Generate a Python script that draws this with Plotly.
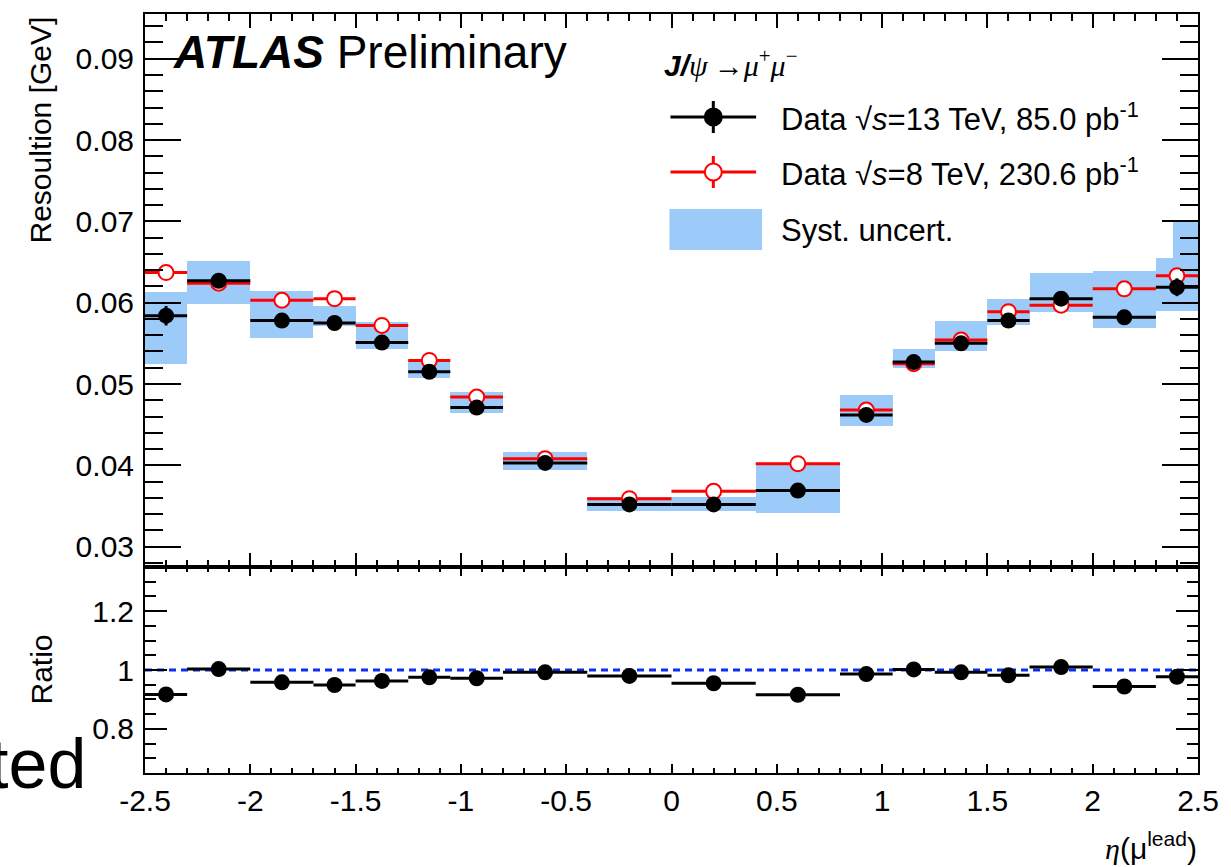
import plotly.graph_objects as go

# ---------------- data ----------------
eta_edges = [-2.5, -2.3, -2.0, -1.7, -1.5, -1.25, -1.05, -0.8, -0.4, 0.0,
             0.4, 0.8, 1.05, 1.25, 1.5, 1.7, 2.0, 2.3, 2.5]
res_13tev = [0.0584, 0.0627, 0.0578, 0.0575, 0.0551, 0.0515, 0.0471, 0.0403, 0.0352,
             0.0352, 0.0369, 0.0462, 0.0527, 0.0550, 0.0578, 0.0605, 0.0582, 0.0619]
err_13tev = [0.0012, 0.0003, 0.0003, 0.0003, 0.0003, 0.0003, 0.0003, 0.0003, 0.0003,
             0.0003, 0.0003, 0.0003, 0.0003, 0.0003, 0.0003, 0.0003, 0.0003, 0.0011]
res_8tev = [0.0637, 0.0624, 0.0603, 0.0605, 0.0572, 0.0529, 0.0484, 0.0408, 0.0359,
            0.0368, 0.0402, 0.0468, 0.0525, 0.0554, 0.0589, 0.0597, 0.0617, 0.0633]
err_8tev = [0.0003] * 18
syst_lo = [0.0525, 0.0599, 0.0557, 0.0571, 0.0543, 0.0508, 0.0464, 0.0394, 0.0344,
           0.0344, 0.0341, 0.0449, 0.0520, 0.0541, 0.0573, 0.0588, 0.0569, 0.0590]
syst_hi = [0.0613, 0.0651, 0.0614, 0.0596, 0.0576, 0.0529, 0.0490, 0.0416, 0.0361,
           0.0361, 0.0403, 0.0487, 0.0543, 0.0578, 0.0604, 0.0636, 0.0639, 0.0655]
# extra narrow systematic box visible at the right edge
extra_edges = [2.38, 2.5]
extra_lo = [0.0590]
extra_hi = [0.0700]
ratio = [0.917, 1.003, 0.958, 0.949, 0.963, 0.975, 0.972, 0.992, 0.980,
         0.955, 0.916, 0.986, 1.002, 0.992, 0.982, 1.010, 0.944, 0.977]
ratio_err = [0.01] * 18
ratio_ref = 1.0
x_tickvals = [-2.5, -2.0, -1.5, -1.0, -0.5, 0.0, 0.5, 1.0, 1.5, 2.0, 2.5]
x_ticklabels = ["-2.5", "-2", "-1.5", "-1", "-0.5", "0", "0.5", "1", "1.5", "2", "2.5"]

# ---------------- derived ----------------
centers = [(a + b) / 2 for a, b in zip(eta_edges[:-1], eta_edges[1:])]
halfw = [(b - a) / 2 for a, b in zip(eta_edges[:-1], eta_edges[1:])]
widths = [b - a for a, b in zip(eta_edges[:-1], eta_edges[1:])]

W, H = 1231, 867
L, R, T, B = 145, 1203, 14, 773
FONT = "Liberation Sans, Arial, Helvetica, sans-serif"
SERIF = "Liberation Serif, Times New Roman, serif"
SYST = "#9ccbfa"
split = (B - 567) / (B - T)


def px(x):
    return (x - L) / (R - L)


def py(y):
    return (B - y) / (B - T)


fig = go.Figure()

# systematic boxes
fig.add_trace(go.Bar(x=centers, y=[h - l for h, l in zip(syst_hi, syst_lo)], base=syst_lo,
                     width=widths, marker=dict(color=SYST, line=dict(width=0)),
                     xaxis="x", yaxis="y", showlegend=False))
fig.add_trace(go.Bar(x=[(extra_edges[0] + extra_edges[1]) / 2],
                     y=[extra_hi[0] - extra_lo[0]], base=extra_lo,
                     width=[extra_edges[1] - extra_edges[0]],
                     marker=dict(color=SYST, line=dict(width=0)),
                     xaxis="x", yaxis="y", showlegend=False))

# 8 TeV data
fig.add_trace(go.Scatter(x=centers, y=res_8tev, mode="markers",
                         marker=dict(symbol="circle", size=15, color="white",
                                     line=dict(color="red", width=2)),
                         error_x=dict(type="data", array=halfw, width=0, thickness=3, color="red"),
                         error_y=dict(type="data", array=err_8tev, width=0, thickness=3, color="red"),
                         xaxis="x", yaxis="y", showlegend=False))
# 13 TeV data
fig.add_trace(go.Scatter(x=centers, y=res_13tev, mode="markers",
                         marker=dict(symbol="circle", size=16, color="black"),
                         error_x=dict(type="data", array=halfw, width=0, thickness=3, color="black"),
                         error_y=dict(type="data", array=err_13tev, width=0, thickness=3, color="black"),
                         xaxis="x", yaxis="y", showlegend=False))

# ratio panel
fig.add_trace(go.Scatter(x=[eta_edges[0], eta_edges[-1]], y=[ratio_ref, ratio_ref], mode="lines",
                         line=dict(color="#0a2ff0", width=3, dash="7px,5px"),
                         xaxis="x2", yaxis="y2", showlegend=False))
fig.add_trace(go.Scatter(x=centers, y=ratio, mode="markers",
                         marker=dict(symbol="circle", size=16, color="black"),
                         error_x=dict(type="data", array=halfw, width=0, thickness=3, color="black"),
                         error_y=dict(type="data", array=ratio_err, width=0, thickness=3, color="black"),
                         xaxis="x2", yaxis="y2", showlegend=False))

axcommon = dict(showline=True, linewidth=2, linecolor="black", mirror="allticks",
                ticks="inside", tickcolor="black", tickwidth=2, showgrid=False,
                zeroline=False, tickfont=dict(family=FONT, size=30, color="black"))

fig.update_layout(
    width=W, height=H,
    margin=dict(l=L, r=W - R, t=T, b=H - B, pad=0),
    paper_bgcolor="white", plot_bgcolor="white",
    barmode="overlay", bargap=0,
    font=dict(family=FONT, color="black"),
    xaxis=dict(axcommon, domain=[0, 1], anchor="y", range=[-2.5, 2.5], matches="x2",
               showticklabels=False, tickvals=x_tickvals, ticklen=14,
               minor=dict(dtick=0.1, tick0=0, ticklen=7, ticks="inside", tickcolor="black", tickwidth=2)),
    yaxis=dict(axcommon, domain=[split, 1], anchor="x", range=[0.0275, 0.0955],
               dtick=0.01, tick0=0, ticklen=36, tickformat=".2f", ticklabelstandoff=3,
               minor=dict(dtick=0.002, tick0=0, ticklen=18, ticks="inside", tickcolor="black", tickwidth=2)),
    xaxis2=dict(axcommon, domain=[0, 1], anchor="y2", range=[-2.5, 2.5],
                tickvals=x_tickvals, ticktext=x_ticklabels, ticklen=9,
                minor=dict(dtick=0.1, tick0=0, ticklen=5, ticks="inside", tickcolor="black", tickwidth=2)),
    yaxis2=dict(axcommon, domain=[0, split], anchor="x2", range=[0.65, 1.35],
                dtick=0.2, tick0=0, ticklen=22, ticklabelstandoff=3,
                minor=dict(dtick=0.05, tick0=0, ticklen=11, ticks="inside", tickcolor="black", tickwidth=2)),
)

ann = []
ann.append(dict(text="<b><i>ATLAS</i></b> Preliminary", x=px(171), y=py(52), xref="paper", yref="paper",
                xanchor="left", yanchor="middle", showarrow=False, font=dict(family=FONT, size=46)))
ann.append(dict(text="<b><i>J/</i></b><span style='font-family:" + SERIF + "'><i>ψ</i>\u2009→<i>μ</i><sup>+</sup><i>μ</i><sup>−</sup></span>",
                x=px(664), y=py(63), xref="paper", yref="paper", xanchor="left", yanchor="middle",
                showarrow=False, font=dict(family=FONT, size=30)))
leg_texts = ["Data √<i>s</i>=13 TeV, 85.0 pb<sup>-1</sup>",
             "Data √<i>s</i>=8 TeV, 230.6 pb<sup>-1</sup>",
             "Syst. uncert."]
leg_y = [117, 172, 231]
for t, yy in zip(leg_texts, leg_y):
    ann.append(dict(text=t, x=px(782), y=py(yy), xref="paper", yref="paper", xanchor="left",
                    yanchor="middle", showarrow=False, font=dict(family=FONT, size=31)))
ann.append(dict(text="Resoultion [GeV]", x=px(39), y=py(130), xref="paper", yref="paper",
                xanchor="center", yanchor="middle", textangle=-90, showarrow=False,
                font=dict(family=FONT, size=30)))
ann.append(dict(text="Ratio", x=px(41), y=py(669), xref="paper", yref="paper",
                xanchor="center", yanchor="middle", textangle=-90, showarrow=False,
                font=dict(family=FONT, size=30)))
ann.append(dict(text="<span style='font-family:" + SERIF + "'><i>η</i></span>(μ<sup>lead</sup>)",
                x=px(1204), y=py(846), xref="paper", yref="paper", xanchor="right", yanchor="middle",
                showarrow=False, font=dict(family=FONT, size=30)))
ann.append(dict(text="ted", x=px(88), y=py(764), xref="paper", yref="paper", xanchor="right",
                yanchor="middle", showarrow=False, font=dict(family=FONT, size=70)))
fig.update_layout(annotations=ann)

# legend glyphs
shapes = []
for yy, col, fill in [(117, "black", "black"), (172, "red", "white")]:
    shapes.append(dict(type="line", xref="paper", yref="paper", x0=px(673), x1=px(759),
                       y0=py(yy), y1=py(yy), line=dict(color=col, width=3)))
    shapes.append(dict(type="line", xref="paper", yref="paper", x0=px(716), x1=px(716),
                       y0=py(yy - 16), y1=py(yy + 16), line=dict(color=col, width=3)))
    shapes.append(dict(type="circle", xref="paper", yref="paper", xsizemode="pixel", ysizemode="pixel",
                       xanchor=px(716), yanchor=py(yy), x0=-8.5, x1=8.5, y0=-8.5, y1=8.5,
                       fillcolor=fill, line=dict(color=col, width=2)))
shapes.append(dict(type="rect", xref="paper", yref="paper", x0=px(672), x1=px(765),
                   y0=py(250), y1=py(209), fillcolor=SYST, line=dict(width=0)))
fig.update_layout(shapes=shapes)

fig.write_html("out.html", config={"displayModeBar": False},
               post_script="document.body.style.margin='0';document.body.style.overflow='hidden';")
